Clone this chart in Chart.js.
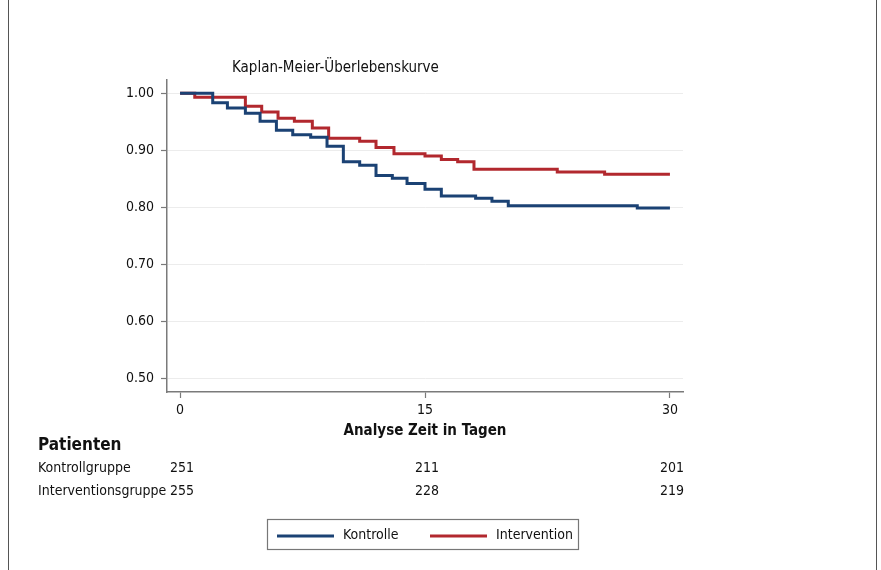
<!DOCTYPE html>
<html>
<head>
<meta charset="utf-8">
<script src="https://cdn.jsdelivr.net/npm/chart.js@4.4.0/dist/chart.umd.min.js"></script>
<style>
    html, body { margin: 0; padding: 0; background: #fff; }
    #wrap { position: relative; width: 881px; height: 570px; }
</style>
</head>
<body>
<div id="wrap"><canvas id="kmChart" width="881" height="570"></canvas></div>
<script>
// Kaplan-Meier data (time in days, survival probability)
const controlTimes = [0, 2, 2.9, 4, 4.9, 5.9, 6.9, 8, 9, 10, 11, 12, 13, 13.9, 15, 16, 18.1, 19.1, 20.1, 28, 30];
const controlSurv = [1.0, 0.983, 0.974, 0.965, 0.951, 0.935, 0.927, 0.923, 0.907, 0.880, 0.874, 0.856, 0.851, 0.842, 0.832, 0.820, 0.816, 0.811, 0.803, 0.799, 0.799];
const interventionTimes = [0, 0.9, 4, 5, 6, 7, 8.1, 9.1, 11, 12, 13.1, 15, 16, 17, 18, 23.1, 26, 30];
const interventionSurv = [1.0, 0.993, 0.977, 0.967, 0.956, 0.951, 0.939, 0.921, 0.916, 0.905, 0.894, 0.890, 0.884, 0.880, 0.867, 0.862, 0.858, 0.858];

// axis ticks
const xTicks = [0, 15, 30];
const yTicks = [0.5, 0.6, 0.7, 0.8, 0.9, 1.0];

// patients at risk
const riskTimes = [0, 15, 30];
const riskControl = [251, 211, 201];
const riskIntervention = [255, 228, 219];
const riskLabels = ['Kontrollgruppe', 'Interventionsgruppe'];

const FONT = "'Liberation Sans Narrow', 'DejaVu Sans Condensed', 'Arial Narrow', sans-serif";
const BLUE = '#1b4274';
const RED = '#b2282e';
const AXIS = '#7a7a7a';

function toPoints(times, surv) {
    return times.map((t, i) => ({ x: t, y: surv[i] }));
}

// draws frame, subtitle, risk table and boxed legend
const extras = {
    id: 'extras',
    afterDraw(chart) {
        const ctx = chart.ctx;
        const xs = chart.scales.x;
        ctx.save();

        // outer frame
        ctx.strokeStyle = '#555';
        ctx.lineWidth = 1;
        ctx.beginPath();
        ctx.moveTo(8.5, 0); ctx.lineTo(8.5, 570);
        ctx.moveTo(876.5, 0); ctx.lineTo(876.5, 570);
        ctx.stroke();

        ctx.fillStyle = '#111';
        ctx.textBaseline = 'middle';

        // subtitle
        ctx.font = '15px ' + FONT;
        ctx.textAlign = 'left';
        ctx.fillText('Kaplan-Meier-Überlebenskurve', 232, 68);

        // numbers at risk
        ctx.font = 'bold 17px ' + FONT;
        ctx.fillText('Patienten', 38, 446);
        ctx.font = '14px ' + FONT;
        const rows = [riskControl, riskIntervention];
        rows.forEach((row, r) => {
            const y = 468 + r * 23;
            ctx.textAlign = 'left';
            ctx.fillText(riskLabels[r], 38, y);
            ctx.textAlign = 'center';
            row.forEach((n, i) => {
                ctx.fillText(String(n), xs.getPixelForValue(riskTimes[i]) + 2, y);
            });
        });

        // legend box
        ctx.strokeStyle = '#777';
        ctx.lineWidth = 1.2;
        ctx.strokeRect(267.5, 519.5, 311, 30);
        ctx.font = '14px ' + FONT;
        ctx.textAlign = 'left';
        const legendX = [277, 430];
        chart.data.datasets.forEach((ds, i) => {
            ctx.strokeStyle = ds.borderColor;
            ctx.lineWidth = 3;
            ctx.beginPath();
            ctx.moveTo(legendX[i], 536);
            ctx.lineTo(legendX[i] + 57, 536);
            ctx.stroke();
            ctx.fillText(ds.label, legendX[i] + 66, 535);
        });

        ctx.restore();
    }
};

const ctx = document.getElementById('kmChart').getContext('2d');
new Chart(ctx, {
    type: 'line',
    data: {
        datasets: [
            {
                label: 'Kontrolle',
                data: toPoints(controlTimes, controlSurv),
                borderColor: BLUE,
                borderWidth: 3,
                stepped: 'before',
                pointRadius: 0,
                fill: false
            },
            {
                label: 'Intervention',
                data: toPoints(interventionTimes, interventionSurv),
                borderColor: RED,
                borderWidth: 3,
                stepped: 'before',
                pointRadius: 0,
                fill: false
            }
        ]
    },
    options: {
        responsive: false,
        animation: false,
        layout: { padding: { left: 107, right: 198, top: 80, bottom: 128 } },
        plugins: {
            legend: { display: false },
            tooltip: { enabled: false }
        },
        scales: {
            x: {
                type: 'linear',
                min: -0.8,
                max: 30.8,
                afterBuildTicks: s => { s.ticks = xTicks.map(v => ({ value: v })); },
                afterFit: s => { s.height = 50; },
                grid: { drawOnChartArea: false, drawTicks: true, tickLength: 6, tickColor: AXIS, tickWidth: 1.2 },
                border: { display: true, color: AXIS, width: 1.5 },
                ticks: { color: '#111', font: { family: FONT, size: 14 }, padding: 4, maxRotation: 0 },
                title: {
                    display: true,
                    text: 'Analyse Zeit in Tagen',
                    color: '#111',
                    font: { family: FONT, size: 15, weight: 'bold' },
                    padding: { top: 0, bottom: 2 }
                }
            },
            y: {
                min: 0.477,
                max: 1.023,
                afterBuildTicks: s => { s.ticks = yTicks.map(v => ({ value: v })); },
                afterFit: s => { s.width = 60; },
                grid: { color: '#ececec', lineWidth: 1, tickLength: 6, tickColor: AXIS, tickWidth: 1.2 },
                border: { display: true, color: AXIS, width: 1.5 },
                ticks: {
                    color: '#111',
                    font: { family: FONT, size: 14 },
                    padding: 7,
                    callback: v => v.toFixed(2)
                }
            }
        }
    },
    plugins: [extras]
});
</script>
</body>
</html>
